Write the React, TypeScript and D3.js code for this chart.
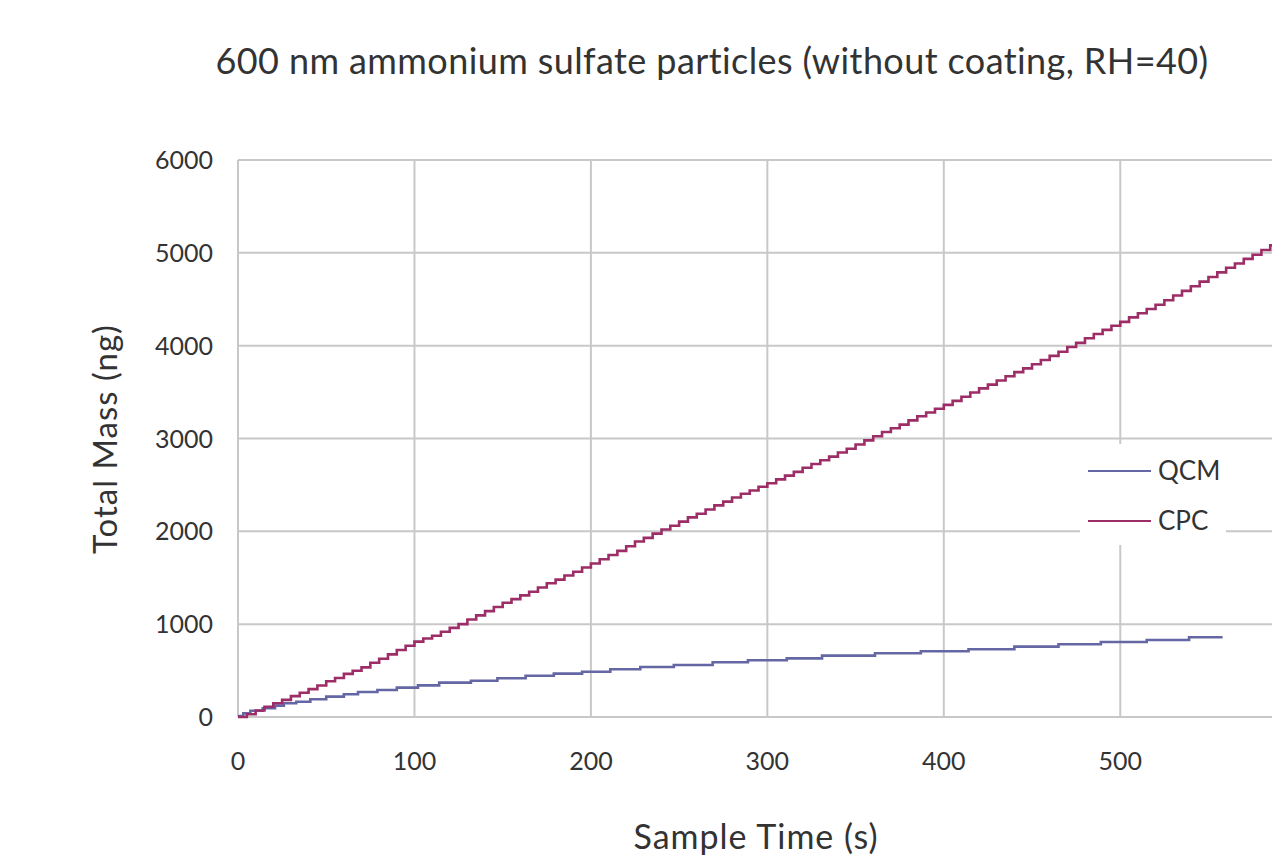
import React from "react";
import * as d3 from "d3";

// QCM readings: step times (s) and total mass (ng)
const qcmTime = [0, 3, 7, 14, 21, 26, 33, 41, 50, 60, 68, 79, 90, 102, 114, 132, 147, 163, 179, 195, 211, 228, 247, 269, 289, 311, 331, 361, 387, 414, 440, 465, 489, 515, 539, 558];
const qcmMass = [10, 40, 68, 94, 122, 148, 165, 191, 219, 245, 269, 291, 316, 341, 370, 391, 417, 445, 467, 488, 514, 539, 560, 589, 611, 632, 661, 686, 708, 730, 758, 783, 808, 830, 859, 859];

// CPC readings every 5 s
const cpcTime = [
  0, 5, 10, 15, 20, 25, 30, 35, 40, 45, 50, 55, 60, 65, 70, 75, 80, 85, 90, 95,
  100, 105, 110, 115, 120, 125, 130, 135, 140, 145, 150, 155, 160, 165, 170, 175, 180, 185, 190, 195,
  200, 205, 210, 215, 220, 225, 230, 235, 240, 245, 250, 255, 260, 265, 270, 275, 280, 285, 290, 295,
  300, 305, 310, 315, 320, 325, 330, 335, 340, 345, 350, 355, 360, 365, 370, 375, 380, 385, 390, 395,
  400, 405, 410, 415, 420, 425, 430, 435, 440, 445, 450, 455, 460, 465, 470, 475, 480, 485, 490, 495,
  500, 505, 510, 515, 520, 525, 530, 535, 540, 545, 550, 555, 560, 565, 570, 575, 580, 585, 588,
];
const cpcMass = [
  0, 30, 70, 110, 148, 185, 225, 262, 300, 340, 385, 420, 465, 498, 535, 585, 628, 675, 722, 768,
  812, 845, 875, 918, 960, 1000, 1050, 1095, 1140, 1185, 1230, 1270, 1310, 1350, 1395, 1440, 1480, 1525, 1565, 1610,
  1653, 1700, 1745, 1790, 1840, 1890, 1930, 1975, 2020, 2060, 2105, 2150, 2190, 2235, 2280, 2320, 2365, 2405, 2440, 2480,
  2518, 2560, 2600, 2640, 2685, 2725, 2765, 2805, 2850, 2890, 2935, 2980, 3025, 3070, 3110, 3150, 3195, 3240, 3280, 3320,
  3362, 3405, 3450, 3495, 3540, 3580, 3625, 3670, 3715, 3755, 3800, 3845, 3890, 3935, 3985, 4030, 4080, 4125, 4170, 4215,
  4256, 4305, 4350, 4395, 4440, 4490, 4540, 4590, 4640, 4690, 4740, 4790, 4840, 4885, 4935, 4980, 5030, 5080, 5110,
];

const xTicks = [0, 100, 200, 300, 400, 500];
const yTicks = [0, 1000, 2000, 3000, 4000, 5000, 6000];
const seriesNames = ["QCM", "CPC"];
const seriesColors = ["#6467a3", "#9c2d66"];

const title = "600 nm ammonium sulfate particles (without coating, RH=40)";
const xLabel = "Sample Time (s)";
const yLabel = "Total Mass (ng)";

const W = 1272;
const H = 855;
const font = "Lato, 'Open Sans', sans-serif";
const textColor = "#333333";
const gridColor = "#c8c8c8";

export default function App() {
  const x = d3.scaleLinear().domain([0, 586]).range([238, 1272]);
  const y = d3.scaleLinear().domain([0, 6000]).range([717, 160]);

  const line = d3
    .line<[number, number]>()
    .x((d) => x(d[0]))
    .y((d) => y(d[1]))
    .curve(d3.curveStepAfter);

  const qcm = qcmTime.map((t, i) => [t, qcmMass[i]] as [number, number]);
  const cpc = cpcTime.map((t, i) => [t, cpcMass[i]] as [number, number]);

  // legend box
  const lg = { x: 1080, y: 444, w: 146, h: 101 };

  return (
    <svg
      width={W}
      height={H}
      style={{ position: "absolute", left: 0, top: 0, background: "#fff" }}
      fontFamily={font}
    >
      <defs>
        <clipPath id="plot-clip">
          <rect x={236} y={150} width={W - 236} height={580} />
        </clipPath>
      </defs>

      {/* grid */}
      {yTicks.map((t) => (
        <line key={"h" + t} x1={x(0)} x2={W} y1={y(t)} y2={y(t)} stroke={gridColor} strokeWidth={2} />
      ))}
      {xTicks.map((t) => (
        <line key={"v" + t} x1={x(t)} x2={x(t)} y1={y(6000)} y2={y(0)} stroke={gridColor} strokeWidth={2} />
      ))}

      {/* legend background covers the grid */}
      <rect x={lg.x} y={lg.y} width={lg.w} height={lg.h} fill="#fff" />

      {/* series */}
      <g clipPath="url(#plot-clip)">
        <path d={line(qcm) ?? ""} fill="none" stroke={seriesColors[0]} strokeWidth={2.6} />
        <path d={line(cpc) ?? ""} fill="none" stroke={seriesColors[1]} strokeWidth={2.6} />
      </g>

      {/* legend */}
      {seriesNames.map((name, i) => (
        <g key={name} transform={`translate(1088, ${471 + i * 50})`}>
          <line x1={0} x2={63} y1={0} y2={0} stroke={seriesColors[i]} strokeWidth={2} />
          <text x={70} y={9} fontSize={26} fill={textColor}>
            {name}
          </text>
        </g>
      ))}

      {/* y tick labels */}
      {yTicks.map((t) => (
        <text key={"yl" + t} x={213} y={y(t) + 9} textAnchor="end" fontSize={25} fill={textColor}>
          {t}
        </text>
      ))}

      {/* x tick labels */}
      {xTicks.map((t) => (
        <text key={"xl" + t} x={x(t)} y={770} textAnchor="middle" fontSize={25} fill={textColor}>
          {t}
        </text>
      ))}

      {/* titles */}
      <text x={712} y={74} textAnchor="middle" fontSize={36} letterSpacing={0.4} fill={textColor}>
        {title}
      </text>
      <text x={756} y={849} textAnchor="middle" fontSize={34} letterSpacing={1} fill={textColor}>
        {xLabel}
      </text>
      <text
        transform={`translate(117, 439) rotate(-90)`}
        textAnchor="middle"
        fontSize={33}
        letterSpacing={1}
        fill={textColor}
      >
        {yLabel}
      </text>
    </svg>
  );
}
